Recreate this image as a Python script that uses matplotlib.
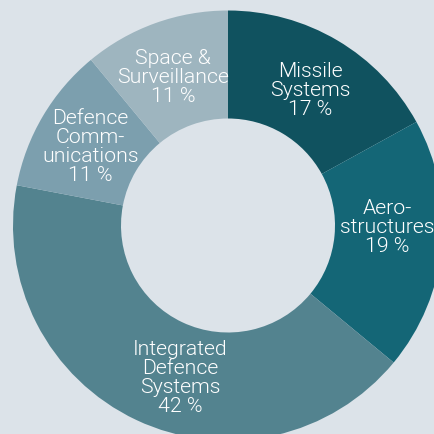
import numpy as np
import matplotlib
matplotlib.use('Agg')
import matplotlib.pyplot as plt

# segment data (clockwise from 12 o'clock)
labels = ['Missile\nSystems', 'Aero-\nstructures', 'Integrated\nDefence\nSystems',
          'Defence\nComm-\nunications', 'Space &\nSurveillance']
shares = [17, 19, 42, 11, 11]
colors = ['#10525f', '#146676', '#53838f', '#7c9fae', '#9eb5bf']
bg = '#dce3e9'

W, H = 434, 435
fig = plt.figure(figsize=(W / 100, H / 100), dpi=100, facecolor=bg)
ax = fig.add_axes([0, 0, 1, 1])
ax.set_facecolor(bg)

cx, cy = 228, H - 226.5
r_out, r_in = 215, 107
wedges, _ = ax.pie(shares, radius=r_out, center=(cx, cy), startangle=90,
                   counterclock=False, colors=colors,
                   wedgeprops=dict(width=r_out - r_in, linewidth=0))
ax.set_xlim(0, W)
ax.set_ylim(0, H)
ax.set_aspect('equal')
ax.axis('off')

# label nudges in degrees (label is not always at the wedge centre)
nudge = [-0.5, 5.0, 7.7, 0.6, 0.5]
for w, lab, val, dn in zip(wedges, labels, shares, nudge):
    ang = np.deg2rad((w.theta1 + w.theta2) / 2 + dn)
    x = cx + 159 * np.cos(ang)
    y = cy + 159 * np.sin(ang)
    ax.text(x, y, f'{lab}\n{val} %', ha='center', va='center', color='white',
            fontsize=15.3, family='Roboto', fontweight=300, linespacing=1.0)

fig.savefig('out.png', dpi=100, facecolor=bg)
